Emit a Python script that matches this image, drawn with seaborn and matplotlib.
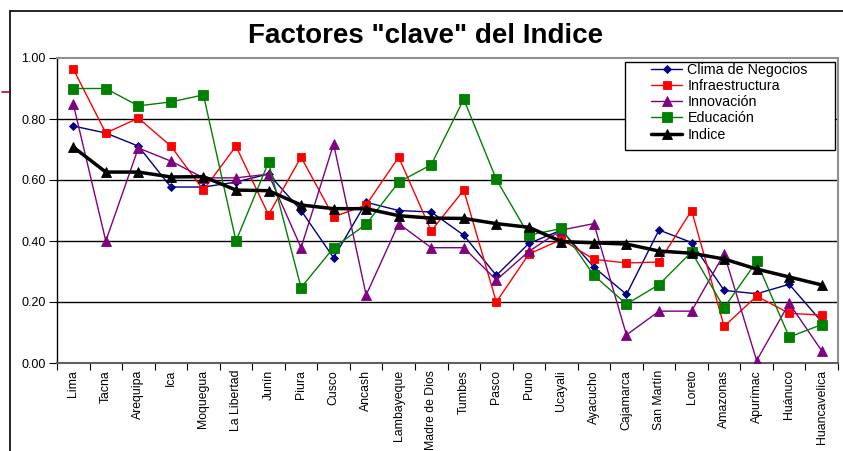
import numpy as np
import pandas as pd
import matplotlib
matplotlib.use("Agg")
import matplotlib.pyplot as plt
from matplotlib.lines import Line2D
from matplotlib.patches import Rectangle
import seaborn as sns

regions = ["Lima", "Tacna", "Arequipa", "Ica", "Moquegua", "La Libertad", "Junín",
           "Piura", "Cusco", "Ancash", "Lambayeque", "Madre de Dios", "Tumbes",
           "Pasco", "Puno", "Ucayali", "Ayacucho", "Cajamarca", "San Martín",
           "Loreto", "Amazonas", "Apurímac", "Huánuco", "Huancavelica"]

clima = [0.777, 0.754, 0.711, 0.577, 0.577, 0.593, 0.620, 0.500, 0.345, 0.527,
         0.500, 0.495, 0.419, 0.287, 0.392, 0.436, 0.314, 0.225, 0.436, 0.395,
         0.238, 0.227, 0.258, 0.135]
infra = [0.964, 0.754, 0.803, 0.711, 0.567, 0.711, 0.486, 0.675, 0.479, 0.518,
         0.675, 0.433, 0.567, 0.200, 0.357, 0.405, 0.340, 0.328, 0.331, 0.500,
         0.120, 0.219, 0.163, 0.157]
innov = [0.849, 0.400, 0.705, 0.662, 0.607, 0.607, 0.619, 0.378, 0.718, 0.223,
         0.457, 0.378, 0.378, 0.272, 0.366, 0.436, 0.457, 0.092, 0.170, 0.170,
         0.358, 0.008, 0.196, 0.040]
educ = [0.900, 0.900, 0.843, 0.856, 0.879, 0.400, 0.658, 0.247, 0.378, 0.455,
        0.593, 0.650, 0.865, 0.602, 0.419, 0.441, 0.287, 0.193, 0.257, 0.364,
        0.181, 0.333, 0.085, 0.126]
indice = [0.708, 0.626, 0.626, 0.610, 0.611, 0.567, 0.565, 0.518, 0.506, 0.506,
          0.483, 0.475, 0.474, 0.457, 0.445, 0.398, 0.394, 0.390, 0.367, 0.360,
          0.341, 0.308, 0.282, 0.256]

y_ticks = [0.0, 0.2, 0.4, 0.6, 0.8, 1.0]
y_tick_labels = ["0.00", "0.20", "0.40", "0.60", "0.80", "1.00"]

series_names = ["Clima de Negocios", "Infraestructura", "Innovación", "Educación", "Indice"]
series_values = [clima, infra, innov, educ, indice]

styles = {
    "Clima de Negocios": dict(color="#000080", marker="D", ms=4.5, lw=1.0),
    "Infraestructura": dict(color="#FF0000", marker="s", ms=5.5, lw=1.0),
    "Innovación": dict(color="#800080", marker="^", ms=6.5, lw=1.0),
    "Educación": dict(color="#008000", marker="s", ms=7.5, lw=1.0),
    "Indice": dict(color="#000000", marker="^", ms=6.5, lw=2.5),
}

sns.set_theme(style="white")
plt.rcParams["font.family"] = ["Liberation Sans", "DejaVu Sans"]
plt.rcParams["text.color"] = "black"

fig = plt.figure(figsize=(8.43, 4.51), dpi=100)
W, H = 843, 451
ax = fig.add_axes([57 / W, 1 - 363 / H, (838 - 57) / W, (363 - 58) / H])

x = np.arange(len(regions))
for name, vals in zip(series_names, series_values):
    st = styles[name]
    df = pd.DataFrame({"x": x, "y": vals})
    sns.lineplot(data=df, x="x", y="y", ax=ax, color=st["color"], marker=st["marker"],
                 markersize=st["ms"], linewidth=st["lw"], markeredgecolor=st["color"],
                 markeredgewidth=0.6, label=name, sort=False, zorder=3)

ax.set_xlim(-0.5, len(regions) - 0.5)
ax.set_ylim(0, 1.0)
ax.set_yticks(y_ticks)
ax.set_yticklabels(y_tick_labels, fontsize=9)
ax.set_xticks(x)
ax.set_xticklabels(regions, rotation=90, fontsize=8.8, va="top")
ax.set_xlabel("")
ax.set_ylabel("")

# category-boundary tick marks on x axis
ax.set_xticks(np.arange(-0.5, len(regions), 1.0), minor=True)
ax.tick_params(axis="x", which="major", length=0, pad=5, labelcolor="black")
ax.tick_params(axis="x", which="minor", length=5, width=0.8, color="#000000", direction="out", bottom=True)
ax.tick_params(axis="y", which="major", length=6, width=0.8, color="#000000", direction="out",
               left=True, pad=2, labelcolor="black")

for yv in y_ticks[1:-1]:
    ax.axhline(yv, color="black", lw=1.0, zorder=1)

for side in ["top", "right"]:
    ax.spines[side].set_color("#909090")
    ax.spines[side].set_linewidth(1.5)
ax.spines["left"].set_color("black")
ax.spines["left"].set_linewidth(1.0)
ax.spines["bottom"].set_color("#606060")
ax.spines["bottom"].set_linewidth(1.5)

# legend box
x0 = (625 - 57) / 781
x1 = (835 - 57) / 781
yt = 1 - (62 - 58) / 305
yb = 1 - (150 - 58) / 305
ax.add_patch(Rectangle((x0, yb), x1 - x0, yt - yb, transform=ax.transAxes,
                       facecolor="white", edgecolor="black", lw=1.0, zorder=4))
leg = ax.legend(loc="upper left", bbox_to_anchor=((651 - 57) / 781, 1 - (63 - 58) / 305),
                fontsize=10.3, frameon=False,
                handlelength=2.2, handletextpad=0.35, labelspacing=0.15,
                borderpad=0, borderaxespad=0)
leg.set_zorder(5)
for t in leg.get_texts():
    t.set_color("black")

fig.text(426 / W, 1 - 36 / H, 'Factores "clave" del Indice', ha="center", va="center",
         fontsize=20, fontweight="bold", color="black",
         family=["Liberation Sans Narrow", "Liberation Sans", "DejaVu Sans"])

# outer chart frame (top and left edges) and small marker at left
fig.add_artist(Line2D([9.5 / W, 9.5 / W], [1 - 11 / H, 0], color="black", lw=1.2,
                      transform=fig.transFigure))
fig.add_artist(Line2D([9.5 / W, 1.0], [1 - 11 / H, 1 - 11 / H], color="black", lw=1.2,
                      transform=fig.transFigure))
fig.add_artist(Line2D([2 / W, 9 / W], [1 - 92 / H, 1 - 92 / H], color="#C0003C", lw=1.2,
                      transform=fig.transFigure))

fig.savefig("out.png", dpi=100)
